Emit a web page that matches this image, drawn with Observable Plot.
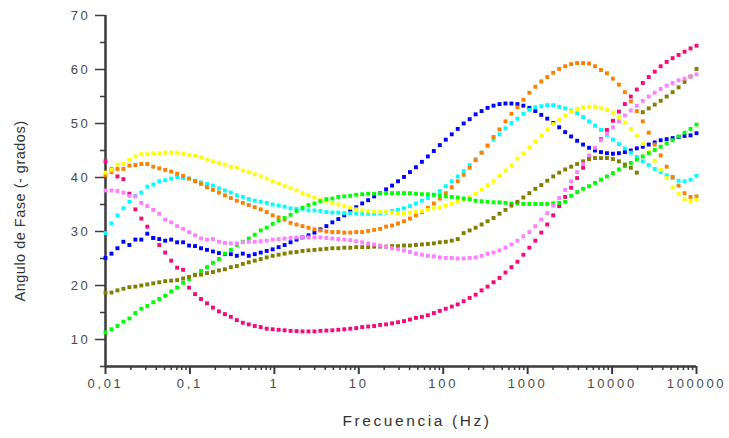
<!DOCTYPE html>
<html>
<head>
<meta charset="utf-8">
<script src="https://cdn.jsdelivr.net/npm/d3@7"></script>
<script src="https://cdn.jsdelivr.net/npm/@observablehq/plot@0.6"></script>
<style>
  html, body { margin: 0; padding: 0; background: #fff; }
  #chart svg { display: block; }
</style>
</head>
<body>
<div id="chart"></div>
<script>
// Frequency sweep (Hz)
const freq = [0.01, 0.011768, 0.013849, 0.016298, 0.019179, 0.02257, 0.026561, 0.031257, 0.036784, 0.043288,
  0.050941, 0.059948, 0.070548, 0.083022, 0.097701, 0.11498, 0.1353, 0.15923, 0.18738, 0.22051,
  0.2595, 0.30539, 0.35938, 0.42292, 0.4977, 0.5857, 0.68926, 0.81113, 0.95455, 1.1233,
  1.3219, 1.5557, 1.8307, 2.1544, 2.5354, 2.9837, 3.5112, 4.132, 4.8627, 5.7224,
  6.7342, 7.925, 9.326, 10.975, 12.915, 15.199, 17.886, 21.049, 24.771, 29.151,
  34.305, 40.37, 47.508, 55.908, 65.793, 77.426, 91.116, 107.23, 126.19, 148.5,
  174.75, 205.65, 242.01, 284.8, 335.16, 394.42, 464.16, 546.23, 642.81, 756.46,
  890.21, 1047.6, 1232.8, 1450.8, 1707.3, 2009.2, 2364.5, 2782.6, 3274.5, 3853.5,
  4534.9, 5336.7, 6280.3, 7390.7, 8697.5, 10235, 12045, 14175, 16681, 19630,
  23101, 27186, 31993, 37649, 44306, 52140, 61359, 72208, 84975, 100000];

const seriesNames = ["rosa", "azul", "cian", "naranja", "amarillo", "verde", "oliva", "violeta"];
const seriesColors = ["#f50a78", "#0000ff", "#00ffff", "#ff8000", "#ffff00", "#00ff00", "#808000", "#ff80ff"];

const rosa = [43.0, 41.5, 40.2, 39.7, 37.0, 34.1, 32.4, 30.9, 28.8, 27.5,
  26.1, 24.6, 23.3, 22.9, 19.6, 18.4, 17.5, 16.7, 15.9, 15.2,
  14.7, 14.2, 13.6, 13.1, 12.8, 12.5, 12.3, 12.0, 11.9, 11.8,
  11.7, 11.6, 11.55, 11.5, 11.5, 11.5, 11.6, 11.65, 11.7, 11.8,
  11.9, 12.0, 12.1, 12.3, 12.4, 12.5, 12.7, 12.8, 13.0, 13.2,
  13.4, 13.7, 14.0, 14.2, 14.5, 14.9, 15.3, 15.7, 16.1, 16.5,
  17.1, 17.7, 18.3, 19.1, 19.8, 20.6, 21.4, 22.4, 23.4, 24.4,
  25.7, 27.0, 28.3, 29.8, 31.3, 33.0, 34.7, 36.4, 38.1, 39.9,
  41.8, 43.5, 45.3, 47.1, 48.8, 50.5, 52.2, 53.6, 55.0, 56.3,
  57.5, 58.6, 59.6, 60.6, 61.4, 62.1, 62.7, 63.3, 63.9, 64.4];

const azul = [25.1, 25.9, 26.9, 28.1, 27.5, 28.5, 28.5, 29.6, 28.8, 28.6,
  28.3, 28.5, 28.0, 28.0, 27.4, 27.3, 26.9, 26.6, 26.3, 26.0,
  25.8, 25.8, 25.5, 25.9, 25.5, 25.8, 26.1, 26.4, 26.7, 27.1,
  27.5, 28.0, 28.5, 28.9, 29.3, 29.8, 30.4, 31.0, 31.7, 32.3,
  33.0, 33.8, 34.5, 35.2, 35.8, 36.5, 37.1, 37.8, 38.5, 39.3,
  40.1, 41.0, 41.9, 42.9, 43.9, 44.9, 46.0, 47.0, 48.0, 49.0,
  50.0, 50.8, 51.7, 52.3, 52.9, 53.3, 53.6, 53.7, 53.7, 53.6,
  53.3, 52.9, 52.3, 51.6, 50.9, 50.1, 49.3, 48.4, 47.6, 46.8,
  46.1, 45.5, 45.0, 44.7, 44.5, 44.4, 44.5, 44.7, 45.0, 45.4,
  45.7, 46.1, 46.5, 46.9, 47.1, 47.3, 47.5, 47.7, 47.8, 48.2];

const cian = [29.7, 31.5, 33.0, 34.3, 35.5, 36.6, 37.2, 38.3, 38.7, 39.3,
  39.5, 39.8, 40.1, 39.9, 39.8, 39.4, 39.1, 38.8, 38.5, 38.0,
  37.6, 37.2, 36.7, 36.4, 36.0, 35.7, 35.5, 35.3, 35.0, 34.8,
  34.6, 34.3, 34.2, 34.2, 33.9, 33.9, 33.8, 33.6, 33.5, 33.5,
  33.4, 33.4, 33.3, 33.3, 33.3, 33.3, 33.4, 33.5, 33.8, 34.0,
  34.3, 34.7, 35.2, 35.7, 36.2, 36.8, 37.5, 38.4, 39.3, 40.2,
  41.2, 42.3, 43.4, 44.6, 45.9, 47.0, 48.0, 49.1, 50.1, 50.9,
  51.8, 52.5, 53.0, 53.2, 53.4, 53.4, 53.1, 52.8, 52.4, 51.9,
  51.2, 50.4, 49.6, 48.8, 47.9, 47.0, 46.2, 45.4, 44.6, 43.8,
  43.0, 42.3, 41.6, 41.0, 40.4, 39.9, 39.4, 39.3, 39.6, 40.3];

const naranja = [40.4, 41.0, 41.6, 41.6, 42.2, 42.3, 42.5, 42.5, 42.0, 41.7,
  41.4, 41.1, 40.7, 40.3, 39.8, 39.3, 38.8, 38.2, 37.7, 37.2,
  36.7, 36.2, 35.7, 35.3, 34.9, 34.5, 34.1, 33.6, 33.0, 32.6,
  32.2, 31.6, 31.3, 31.0, 30.7, 30.4, 30.2, 30.0, 29.9, 29.9,
  29.8, 29.8, 29.9, 29.9, 30.1, 30.3, 30.5, 30.9, 31.1, 31.5,
  31.9, 32.4, 33.0, 33.6, 34.4, 35.2, 36.1, 37.1, 38.2, 39.3,
  40.5, 41.8, 43.2, 44.6, 45.9, 47.5, 48.9, 50.4, 51.8, 53.0,
  54.4, 55.7, 56.8, 57.8, 58.6, 59.4, 60.1, 60.6, 61.0, 61.2,
  61.2, 61.1, 60.6, 59.9, 59.3, 58.3, 57.2, 55.8, 54.1, 52.3,
  50.4, 48.3, 46.1, 44.1, 42.0, 40.1, 38.5, 37.1, 36.4, 36.5];

const amarillo = [40.9, 41.4, 42.4, 42.5, 43.3, 43.9, 44.3, 44.3, 44.5, 44.5,
  44.6, 44.6, 44.6, 44.4, 44.2, 44.0, 43.7, 43.3, 43.0, 42.7,
  42.4, 42.0, 41.8, 41.3, 41.0, 40.6, 40.2, 39.8, 39.3, 38.9,
  38.4, 38.0, 37.6, 37.1, 36.7, 36.3, 35.9, 35.6, 35.3, 35.0,
  34.7, 34.4, 34.1, 33.9, 33.8, 33.7, 33.6, 33.6, 33.5, 33.4,
  33.4, 33.5, 33.6, 33.8, 34.0, 34.3, 34.5, 34.8, 35.1, 35.5,
  35.9, 36.4, 37.0, 37.7, 38.6, 39.4, 40.3, 41.3, 42.3, 43.5,
  44.5, 45.6, 46.7, 47.8, 48.9, 49.9, 50.8, 51.5, 52.2, 52.7,
  53.0, 53.1, 53.1, 52.8, 52.5, 52.0, 51.2, 50.2, 49.0, 47.7,
  46.2, 44.7, 43.1, 41.4, 39.9, 38.2, 37.0, 36.0, 35.6, 35.9];

const verde = [11.3, 11.9, 12.5, 13.3, 13.9, 14.9, 15.7, 16.2, 16.9, 17.5,
  18.1, 18.9, 19.6, 20.5, 21.2, 22.0, 22.7, 23.4, 24.2, 24.9,
  25.9, 26.6, 27.5, 28.1, 28.7, 29.4, 30.2, 30.7, 31.4, 32.0,
  32.5, 33.1, 33.8, 34.4, 34.9, 35.2, 35.6, 36.0, 36.1, 36.4,
  36.5, 36.6, 36.8, 36.9, 37.0, 37.0, 37.1, 37.1, 37.1, 37.1,
  37.1, 37.1, 37.0, 36.9, 36.9, 36.8, 36.7, 36.5, 36.4, 36.3,
  36.1, 36.0, 35.7, 35.6, 35.5, 35.4, 35.4, 35.3, 35.2, 35.2,
  35.1, 35.1, 35.1, 35.1, 35.1, 35.2, 35.3, 35.5, 36.6, 37.3,
  37.9, 38.4, 39.0, 39.6, 40.2, 40.8, 41.5, 42.1, 42.7, 43.3,
  43.9, 44.5, 45.1, 45.7, 46.3, 46.9, 47.6, 48.3, 49.0, 49.8];

const oliva = [18.7, 18.7, 19.1, 19.4, 19.7, 19.8, 20.0, 20.2, 20.4, 20.6,
  20.8, 20.9, 21.0, 21.3, 21.6, 21.9, 22.0, 22.3, 22.5, 22.8,
  23.0, 23.4, 23.6, 24.0, 24.3, 24.6, 24.9, 25.2, 25.5, 25.7,
  25.9, 26.1, 26.2, 26.4, 26.5, 26.6, 26.7, 26.8, 26.9, 26.9,
  27.0, 27.0, 27.1, 27.1, 27.1, 27.2, 27.2, 27.2, 27.3, 27.3,
  27.4, 27.4, 27.5, 27.6, 27.7, 27.8, 28.0, 28.1, 28.3, 28.6,
  29.7, 30.2, 30.7, 31.3, 31.9, 32.5, 33.3, 34.0, 34.8, 35.5,
  36.3, 37.1, 37.9, 38.6, 39.4, 40.2, 40.9, 41.5, 42.0, 42.5,
  43.0, 43.4, 43.6, 43.6, 43.6, 43.4, 43.0, 42.4, 41.8, 40.9,
  52.1, 52.8, 53.5, 54.2, 55.0, 55.8, 56.7, 57.7, 58.7, 60.1];

const violeta = [37.6, 37.6, 37.5, 37.2, 36.6, 36.5, 35.3, 34.7, 34.0, 33.3,
  32.2, 31.7, 31.0, 30.5, 29.9, 29.3, 28.7, 28.5, 28.6, 28.1,
  27.9, 27.8, 27.8, 28.0, 28.1, 28.1, 28.2, 28.3, 28.5, 28.6,
  28.7, 28.8, 28.9, 28.9, 28.9, 28.9, 28.9, 28.8, 28.7, 28.6,
  28.5, 28.4, 28.2, 28.0, 27.8, 27.6, 27.4, 27.2, 26.9, 26.7,
  26.5, 26.2, 25.9, 25.7, 25.5, 25.4, 25.2, 25.1, 25.1, 25.0,
  25.0, 25.1, 25.2, 25.5, 25.9, 26.1, 26.5, 27.0, 27.6, 28.3,
  29.1, 29.9, 31.0, 32.2, 33.4, 34.8, 36.2, 37.7, 39.3, 41.0,
  42.5, 44.1, 45.5, 46.9, 48.1, 49.3, 50.4, 51.5, 52.4, 53.3,
  54.2, 55.0, 55.7, 56.4, 57.0, 57.5, 58.0, 58.3, 58.7, 59.1];

const xTicks = [0.01, 0.1, 1, 10, 100, 1000, 10000, 100000];
const xTickLabels = ["0,01", "0,1", "1", "10", "100", "1000", "10000", "100000"];
const xMinorMultipliers = [2, 3, 4, 5, 6, 7, 8, 9];
const yTicks = [10, 20, 30, 40, 50, 60, 70];
const yMinorTicks = [5, 15, 25, 35, 45, 55, 65];
const xLabel = "Frecuencia (Hz)";
const yLabel = "Angulo de Fase (- grados)";

const seriesValues = [rosa, azul, cian, naranja, amarillo, verde, oliva, violeta];
const rows = seriesValues.flatMap((vals, s) =>
  vals.map((v, i) => ({ f: freq[i], fase: v, serie: seriesNames[s] })));

const xMinorTicks = xTicks.slice(0, -1).flatMap(t => xMinorMultipliers.map(m => t * m));

const axisColor = "#3a3a3a";

const chart = Plot.plot({
  width: 729,
  height: 438,
  marginLeft: 105,
  marginRight: 33,
  marginTop: 15,
  marginBottom: 72,
  style: { fontFamily: "Arial, 'Liberation Sans', sans-serif", background: "#fff", overflow: "visible" },
  x: { type: "log", domain: [0.01, 100000] },
  y: { domain: [5, 70] },
  color: { domain: seriesNames, range: seriesColors },
  marks: [
    Plot.axisX(xMinorTicks, { tickSize: 4, tickFormat: () => "", stroke: axisColor, strokeWidth: 1.5, label: null }),
    Plot.axisX(xTicks, {
      tickSize: 8, tickPadding: 4, strokeWidth: 2, stroke: axisColor,
      tickFormat: d => xTickLabels[xTicks.indexOf(d)],
      fontSize: 13, fill: "#4a4a4a", label: null
    }),
    Plot.axisY(yMinorTicks, { tickSize: 5, tickFormat: () => "", stroke: axisColor, strokeWidth: 1.5, label: null }),
    Plot.axisY(yTicks, {
      tickSize: 10, tickPadding: 5, strokeWidth: 1.5, stroke: axisColor,
      fontSize: 13, fill: "#4a4a4a", label: null
    }),
    Plot.ruleX([0.01], { y1: 5, y2: 70, stroke: axisColor, strokeWidth: 2.5 }),
    Plot.ruleY([5], { x1: 0.01, x2: 100000, stroke: axisColor, strokeWidth: 2.5 }),
    Plot.dot(rows, { x: "f", y: "fase", fill: "serie", symbol: "square", r: 2.2, stroke: null }),
    Plot.text([xLabel], { text: d => d, frameAnchor: "bottom", dy: 59, dx: 16, fontSize: 15.5, fill: "#333" }),
    Plot.text([yLabel], { text: d => d, frameAnchor: "left", textAnchor: "middle", rotate: -90, dx: -85, dy: 20, fontSize: 14.5, fill: "#333" })
  ]
});

// letter spacing as inline attributes (tick labels and axis titles)
chart.querySelectorAll("text").forEach(t => {
  const s = t.textContent;
  if (/^[0-9,]+$/.test(s)) t.setAttribute("letter-spacing", "2.7");
  else if (s === xLabel) t.setAttribute("letter-spacing", "2.6");
  else if (s === yLabel) t.setAttribute("letter-spacing", "0.5");
});

document.getElementById("chart").appendChild(chart);
</script>
</body>
</html>
